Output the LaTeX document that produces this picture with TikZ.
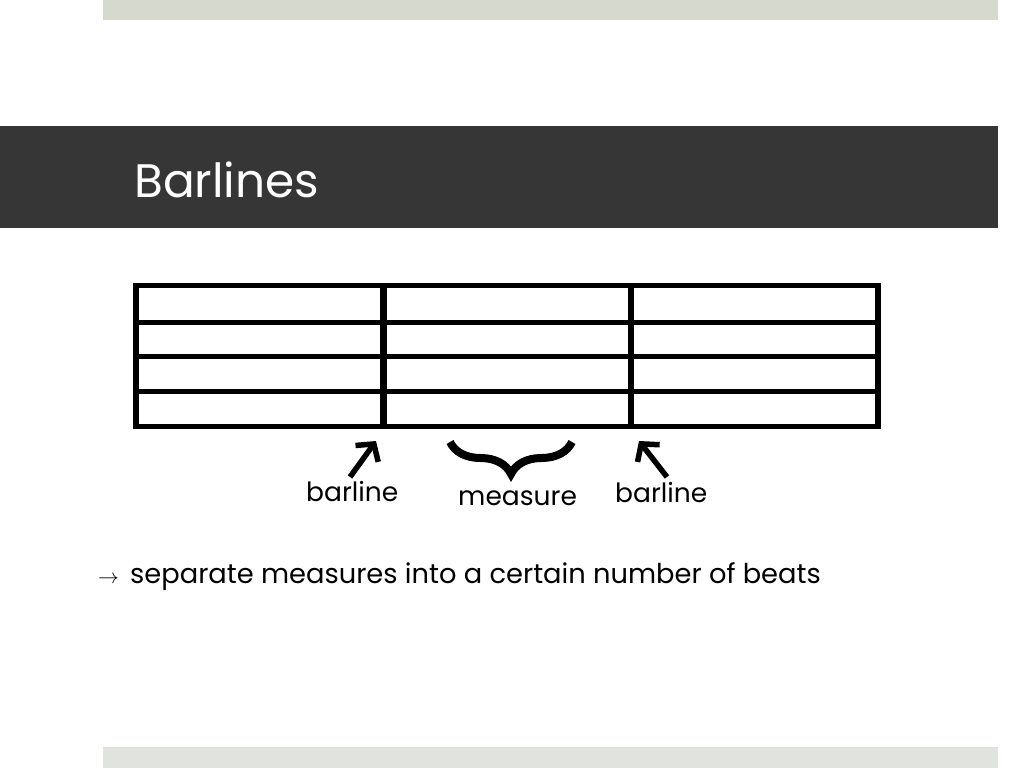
\documentclass[tikz,border=0pt]{standalone}
\usepackage{fontspec}
\setmainfont{Poppins}
\usetikzlibrary{arrows.meta,decorations.pathreplacing}
\definecolor{topband}{HTML}{D6D9CD}
\definecolor{botband}{HTML}{E1E4DE}
\definecolor{titlebar}{HTML}{363636}
\begin{document}
\begin{tikzpicture}[x=1pt,y=-1pt,
  staffline/.style={line width=5pt},
  barl/.style={line width=6.5pt},
  lbl/.style={font=\fontsize{26.5}{30}\selectfont, inner sep=0pt, anchor=base west},
  pointer/.style={line width=5.5pt, -{Straight Barb[length=12pt,width=28pt]}},
  bracestyle/.style={line width=8pt, decorate, decoration={brace, mirror, amplitude=32pt}}]
\useasboundingbox (0,0) rectangle (1024,768);
\fill[white] (0,0) rectangle (1024,768);
\fill[topband] (103,0) rectangle (998,20);
\fill[titlebar] (0,126) rectangle (998,228);
\fill[botband] (103,747) rectangle (998,768);
\node[anchor=base west, inner sep=0pt, text=white, font=\fontsize{47}{56}\selectfont] (title) at (134,197) {Barlines};
% staff
\foreach \y in {322,356,391} \draw[staffline] (136,\y) -- (878,\y);
\draw[line width=5.5pt] (136,285.5) rectangle (878,426.5);
\draw[barl] (383.5,285.5) -- (383.5,426.5);
\draw[barl] (631,285.5) -- (631,426.5);
% labels
\node[lbl] (bl1) at (306,501) {barline};
\node[lbl] (meas) at (458,505) {measure};
\node[lbl] (bl2) at (615,502) {barline};
\coordinate (a1t) at (350,477);
\coordinate (a1h) at (376,441);
\coordinate (a2t) at (667,477);
\coordinate (a2h) at (639,441);
\draw[pointer] (a1t) -- (a1h);
\draw[pointer] (a2t) -- (a2h);
\coordinate (bL) at (450,442);
\coordinate (bR) at (572,442);
\draw[bracestyle] (bL) -- (bR);
% bottom text
\node[anchor=base west, inner sep=0pt, font=\fontsize{20}{24}\selectfont] (arr) at (98,583) {$\rightarrow$};
\node[anchor=base west, inner sep=0pt, font=\fontsize{27.3}{32}\selectfont] (sep) at (130,583) {separate measures into a certain number of beats};
\end{tikzpicture}
\end{document}
